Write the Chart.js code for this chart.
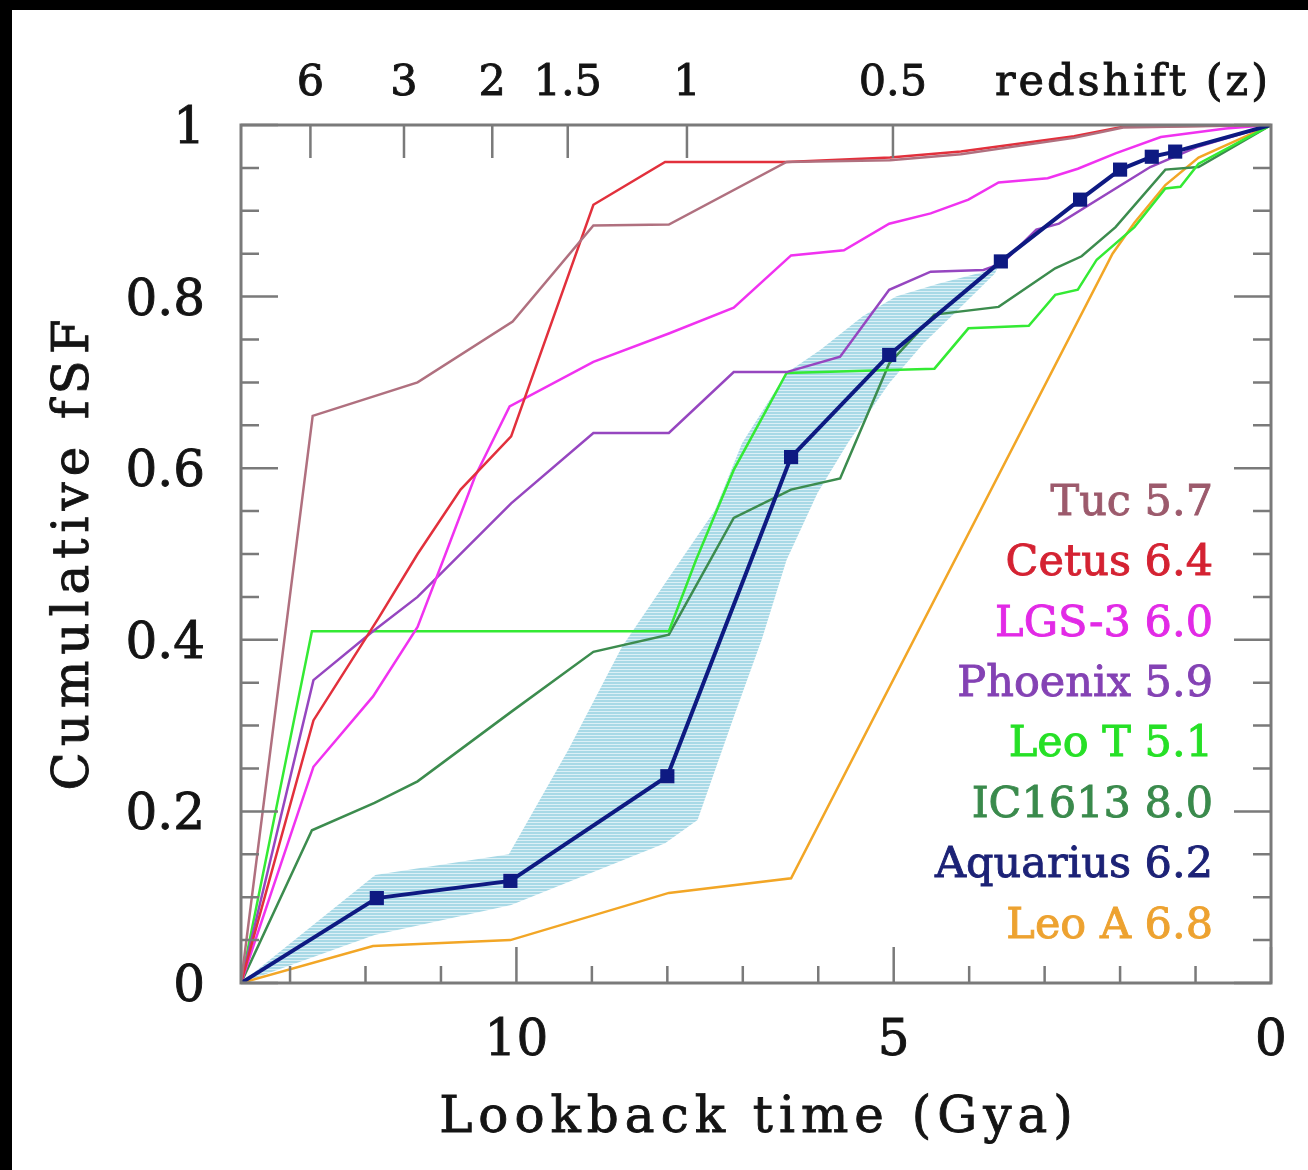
<!DOCTYPE html>
<html>
<head>
<meta charset="utf-8">
<script src="https://cdn.jsdelivr.net/npm/chart.js@4.4.1/dist/chart.umd.min.js"></script>
<style>
  html, body { margin: 0; padding: 0; background: #000; }
  #wrap { position: absolute; left: 12px; top: 10px; width: 1296px; height: 1160px; background: #fff; }
</style>
</head>
<body>
<div id="wrap"><canvas id="chart" width="1296" height="1160"></canvas></div>
<script>
// cumulative star formation fraction vs lookback time, [Gyr, fraction]
const T_MAX = 13.65;

const tuc = [[13.65, 0], [12.70, 0.661], [11.31, 0.70], [10.05, 0.771], [8.98, 0.883], [7.98, 0.884],
  [6.42, 0.957], [5.05, 0.959], [4.11, 0.966], [2.61, 0.985], [1.96, 0.997], [0, 1]];
const cetus = [[13.65, 0], [12.69, 0.306], [11.83, 0.425], [11.31, 0.50], [10.74, 0.575], [10.07, 0.637],
  [8.98, 0.907], [8.03, 0.957], [6.42, 0.957], [5.05, 0.962], [4.11, 0.969], [2.61, 0.987], [1.96, 0.998], [0, 1]];
const lgs3 = [[13.65, 0], [12.69, 0.252], [11.90, 0.334], [11.31, 0.415], [10.97, 0.493], [10.55, 0.59],
  [10.09, 0.672], [8.98, 0.724], [7.98, 0.757], [7.12, 0.787], [6.36, 0.848], [5.66, 0.854], [5.06, 0.885],
  [4.51, 0.897], [4.01, 0.913], [3.61, 0.933], [2.96, 0.938], [2.56, 0.949], [2.06, 0.967], [1.46, 0.986],
  [0.6, 0.996], [0, 1]];
const phoenix = [[13.65, 0], [12.69, 0.353], [11.93, 0.408], [11.31, 0.45], [10.07, 0.559], [8.98, 0.641],
  [7.98, 0.641], [7.12, 0.712], [6.42, 0.712], [5.71, 0.73], [5.06, 0.808], [4.51, 0.829], [3.81, 0.831],
  [3.56, 0.839], [3.11, 0.878], [2.81, 0.885], [2.06, 0.926], [1.60, 0.951], [0.96, 0.975], [0, 1]];
const leoT = [[13.65, 0], [12.71, 0.41], [7.98, 0.41], [7.62, 0.493], [7.12, 0.598], [6.42, 0.711],
  [4.46, 0.716], [4.01, 0.763], [3.21, 0.766], [2.86, 0.802], [2.56, 0.808], [2.31, 0.843], [1.81, 0.881],
  [1.40, 0.926], [1.2, 0.928], [0.96, 0.955], [0, 1]];
const ic1613 = [[13.65, 0], [12.71, 0.178], [11.88, 0.21], [11.31, 0.235], [10.07, 0.316], [8.98, 0.386],
  [7.98, 0.406], [7.12, 0.542], [6.36, 0.575], [5.71, 0.588], [5.06, 0.722], [4.46, 0.779], [3.61, 0.788],
  [2.86, 0.833], [2.51, 0.847], [2.06, 0.881], [1.40, 0.948], [0.96, 0.951], [0, 1]];
const aquarius = [[13.65, 0], [11.85, 0.099], [10.08, 0.119], [8.0, 0.241], [6.36, 0.613], [5.06, 0.732],
  [3.58, 0.841], [2.53, 0.913], [2.0, 0.948], [1.58, 0.963], [1.27, 0.969], [0, 1]];
const leoA = [[13.65, 0], [11.9, 0.043], [10.08, 0.05], [7.98, 0.105], [6.36, 0.122], [2.1, 0.85],
  [1.81, 0.886], [1.40, 0.93], [0.96, 0.962], [0, 1]];

// Aquarius uncertainty envelope: upper edge, then lower edge walked back to the start
const bandUpper = [[13.65, 0], [11.87, 0.126], [10.1, 0.15], [9.31, 0.272], [8.6, 0.392], [8.03, 0.466],
  [7.37, 0.551], [7.01, 0.629], [6.42, 0.711], [5.97, 0.738], [5.41, 0.777], [4.97, 0.80], [4.41, 0.815],
  [3.71, 0.831], [3.58, 0.841]];
const bandLower = [[3.58, 0.841], [3.66, 0.827], [4.11, 0.788], [4.61, 0.745], [5.06, 0.699], [5.61, 0.629],
  [6.01, 0.571], [6.42, 0.493], [6.75, 0.40], [7.12, 0.31], [7.6, 0.19], [8.03, 0.163], [10.07, 0.091],
  [11.88, 0.056], [13.65, 0]];

const galaxyNames = ["Tuc", "Cetus", "LGS-3", "Phoenix", "Leo T", "IC1613", "Aquarius", "Leo A"];
const galaxyValues = [5.7, 6.4, 6.0, 5.9, 5.1, 8.0, 6.2, 6.8];
const lineColors = ["#b0707f", "#e2303c", "#f032f0", "#9646c0", "#34ea34", "#3c8c4e", "#0e1a82", "#f2a626"];
const textColors = ["#9c5a6c", "#d42232", "#e22ae6", "#8442b4", "#26e026", "#3a8a4c", "#1c2276", "#eda230"];

const xTickValues = [10, 5, 0];
const xTickLabels = ["10", "5", "0"];
const yTickValues = [0, 0.2, 0.4, 0.6, 0.8, 1];
const yTickLabels = ["0", "0.2", "0.4", "0.6", "0.8", "1"];
const redshiftLabels = ["6", "3", "2", "1.5", "1", "0.5"];
const redshiftLookback = [12.73, 11.49, 10.32, 9.32, 7.74, 5.01];

const SERIF = '"DejaVu Serif", "Liberation Serif", serif';
const INK = "#141414";
const FRAME = "#7a7a7a";

function toPoints(arr) {
  return arr.map(([t, f]) => ({ x: t, y: f }));
}

// horizontal hatching for the envelope
function hatch() {
  const c = document.createElement("canvas");
  c.width = 4;
  c.height = 3;
  const g = c.getContext("2d");
  g.fillStyle = "#dcf0f6";
  g.fillRect(0, 0, 4, 3);
  g.fillStyle = "#a8d9e6";
  g.fillRect(0, 0, 4, 2);
  return g.createPattern(c, "repeat");
}

// fill plus a hairline stroke, the plotted lettering is a bit heavier than the plain face
function label(ctx, str, x, y) {
  ctx.strokeStyle = ctx.fillStyle;
  ctx.lineWidth = 0.9;
  ctx.fillText(str, x, y);
  ctx.strokeText(str, x, y);
}

const decor = {
  id: "decor",
  beforeDraw(chart) {
    const ctx = chart.ctx;
    ctx.save();
    ctx.fillStyle = "#fff";
    ctx.fillRect(0, 0, chart.width, chart.height);
    ctx.restore();
  },
  afterDatasetsDraw(chart) {
    const { ctx, chartArea: a, scales: { x, y } } = chart;
    ctx.save();

    // inward ticks
    ctx.strokeStyle = FRAME;
    ctx.lineWidth = 2.5;
    ctx.beginPath();
    for (let t = 0; t <= 13; t++) {
      const px = x.getPixelForValue(t);
      const len = t % 5 === 0 ? 36 : 17;
      ctx.moveTo(px, a.bottom);
      ctx.lineTo(px, a.bottom - len);
    }
    for (let i = 0; i <= 20; i++) {
      const py = y.getPixelForValue(i * 0.05);
      const len = i % 4 === 0 ? 37 : 18;
      ctx.moveTo(a.left, py);
      ctx.lineTo(a.left + len, py);
      ctx.moveTo(a.right, py);
      ctx.lineTo(a.right - len, py);
    }
    redshiftLookback.forEach((t) => {
      const px = x.getPixelForValue(t);
      ctx.moveTo(px, a.top);
      ctx.lineTo(px, a.top + 33);
    });
    ctx.stroke();

    ctx.lineWidth = 3;
    ctx.strokeRect(a.left, a.top, a.right - a.left, a.bottom - a.top);

    // tick labels
    ctx.fillStyle = INK;
    ctx.font = "50px " + SERIF;
    ctx.textBaseline = "alphabetic";
    ctx.textAlign = "right";
    yTickValues.forEach((v, i) => {
      label(ctx, yTickLabels[i], 193, y.getPixelForValue(v) + 18);
    });
    ctx.textAlign = "center";
    xTickValues.forEach((v, i) => {
      label(ctx, xTickLabels[i], x.getPixelForValue(v), 1045);
    });

    // redshift axis
    ctx.font = "43px " + SERIF;
    redshiftLookback.forEach((t, i) => {
      label(ctx, redshiftLabels[i], x.getPixelForValue(t), 85);
    });
    ctx.textAlign = "right";
    ctx.letterSpacing = "3px";
    label(ctx, "redshift (z)", 1259, 85);

    // axis titles
    ctx.font = "50px " + SERIF;
    ctx.letterSpacing = "6px";
    ctx.textAlign = "center";
    label(ctx, "Lookback time (Gya)", (a.left + a.right) / 2 + 3, 1122);
    ctx.save();
    ctx.translate(76, 542);
    ctx.rotate(-Math.PI / 2);
    label(ctx, "Cumulative fSF", 0, 0);
    ctx.restore();

    // galaxy labels
    ctx.letterSpacing = "0px";
    ctx.font = "43px " + SERIF;
    ctx.textAlign = "right";
    galaxyNames.forEach((name, i) => {
      ctx.fillStyle = textColors[i];
      label(ctx, name + " " + galaxyValues[i].toFixed(1), 1201, 504.7 + i * 60.4);
    });

    ctx.restore();
  }
};

const series = [tuc, cetus, lgs3, phoenix, leoT, ic1613, aquarius, leoA];

const datasets = series.map((s, i) => {
  const isAqr = galaxyNames[i] === "Aquarius";
  return {
    label: galaxyNames[i],
    data: toPoints(s),
    borderColor: lineColors[i],
    backgroundColor: lineColors[i],
    borderWidth: isAqr ? 4 : 2.5,
    pointStyle: "rect",
    pointRadius: isAqr ? (c) => (c.dataIndex === 0 || c.dataIndex === s.length - 1 ? 0 : 10) : 0,
    pointBorderWidth: 0,
    tension: 0,
    fill: false,
    order: isAqr ? 0 : i + 1
  };
});

datasets.push({
  label: "Aquarius range",
  data: toPoints(bandUpper.concat(bandLower)),
  borderWidth: 0,
  borderColor: "rgba(0,0,0,0)",
  backgroundColor: hatch(),
  pointRadius: 0,
  tension: 0,
  fill: "shape",
  order: 100
});

new Chart(document.getElementById("chart"), {
  type: "line",
  data: { datasets },
  options: {
    responsive: false,
    animation: false,
    events: [],
    layout: { padding: { left: 229, right: 37, top: 115, bottom: 187 } },
    plugins: { legend: { display: false }, tooltip: { enabled: false } },
    scales: {
      x: { type: "linear", reverse: true, min: 0, max: T_MAX, display: false },
      y: { type: "linear", min: 0, max: 1, display: false }
    }
  },
  plugins: [decor]
});
</script>
</body>
</html>
